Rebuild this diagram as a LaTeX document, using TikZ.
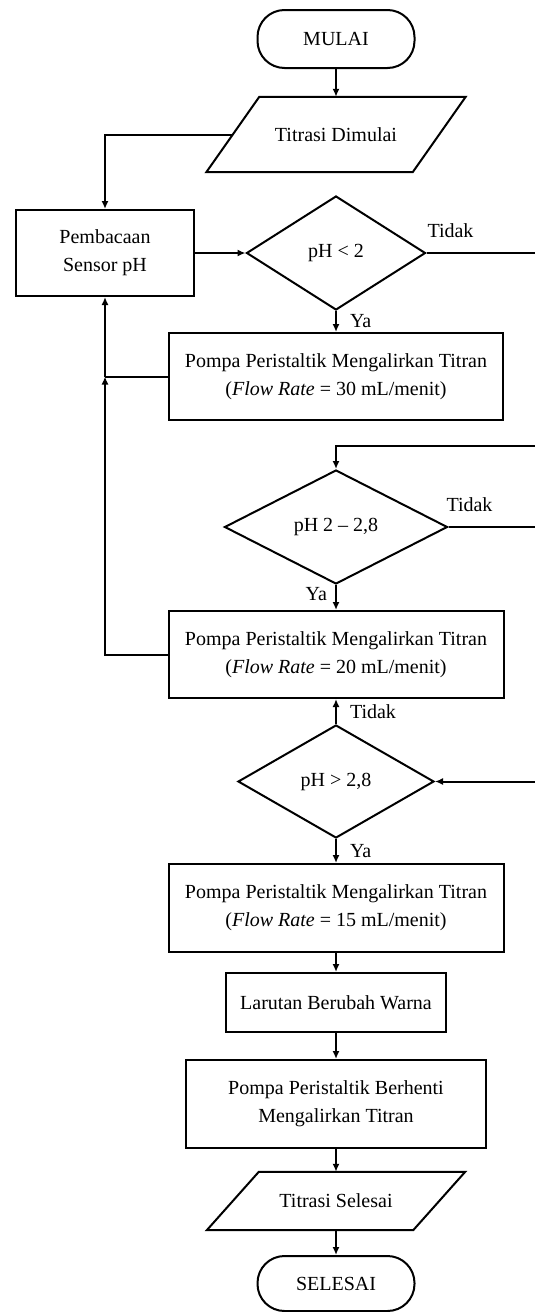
\documentclass[tikz,border=0pt]{standalone}
\usepackage{fontspec}
\setmainfont{Liberation Serif}
\usepackage{tikz}
\usetikzlibrary{arrows.meta, shapes.geometric, calc, positioning}

\begin{document}
\begin{tikzpicture}[x=1pt, y=-1pt,
    every node/.style={font=\fontsize{20}{28}\selectfont},
    terminal/.style={draw, line width=2pt, rounded corners=27pt, minimum width=157pt, minimum height=58pt},
    iobox/.style={minimum width=206pt, inner sep=0pt},
    process/.style={draw, line width=2pt, align=center, minimum height=87pt, inner sep=2pt},
    decision/.style={draw, line width=2pt, diamond, inner sep=0pt, minimum height=114pt},
    arr/.style={line width=2pt, -{Latex[length=8pt, width=7pt]}},
    line/.style={line width=2pt},
    lbl/.style={inner sep=0pt},
    tidak/.style={lbl, pos=0, anchor=south west, yshift=14pt}]
            % fixed page size
            \useasboundingbox (0,0) rectangle (535,1312);

            % flowchart blocks
            \node[terminal] (mulai) at (336,39) {MULAI};
            \node[iobox, minimum height=75pt] (dimulai) at (336,134.5) {Titrasi Dimulai};
            \node[process, minimum width=178pt, minimum height=86pt] (baca) at (105,253) {Pembacaan\\Sensor pH};
            \node[decision, minimum width=179pt] (cek1) at (336,253) {pH < 2};
            \node[process, minimum width=334pt] (pompa30) at (336,376.5) {Pompa Peristaltik Mengalirkan Titran\\(\textit{Flow Rate} = 30 mL/menit)};
            \node[decision, minimum width=223pt] (cek2) at (336,527) {pH 2 – 2,8};
            \node[process, minimum width=335pt] (pompa20) at (336,654.5) {Pompa Peristaltik Mengalirkan Titran\\(\textit{Flow Rate} = 20 mL/menit)};
            \node[decision, minimum width=196pt, minimum height=113pt] (cek3) at (336,781.5) {pH > 2,8};
            \node[process, minimum width=335pt, minimum height=88pt] (pompa15) at (336,908) {Pompa Peristaltik Mengalirkan Titran\\(\textit{Flow Rate} = 15 mL/menit)};
            \node[process, minimum width=220pt, minimum height=59pt] (warna) at (336,1002.5) {Larutan Berubah Warna};
            \node[process, minimum width=300pt, minimum height=88pt] (henti) at (336,1104) {Pompa Peristaltik Berhenti\\Mengalirkan Titran};
            \node[iobox, minimum height=58pt] (selesai) at (336,1201) {Titrasi Selesai};
            \node[terminal, minimum height=55pt] (akhir) at (336,1283.5) {SELESAI};

            % slanted input/output outlines
            \draw[line] ([xshift=26.5pt]dimulai.north west) -- ([xshift=26.5pt]dimulai.north east)
                -- ([xshift=-26.5pt]dimulai.south east) -- ([xshift=-26.5pt]dimulai.south west) -- cycle;
            \draw[line] ([xshift=26pt]selesai.north west) -- ([xshift=26pt]selesai.north east)
                -- ([xshift=-26pt]selesai.south east) -- ([xshift=-26pt]selesai.south west) -- cycle;

            % loose ends at the right border
            \coordinate (kanan1) at (535,253);
            \coordinate (kanan2) at (535,446);
            \coordinate (kanan3) at (535,527);
            \coordinate (kanan4) at (535,781.5);
            \coordinate (sambung) at (baca.south |- pompa30.west);

            % connectors
            \draw[arr] (mulai.south) -- (dimulai.north);
            \draw[arr] (dimulai.west) -| (baca.north);
            \draw[arr] (baca.east) -- (cek1.west);
            \draw[line] (cek1.east) -- node[tidak] {Tidak} (kanan1);
            \draw[arr] (cek1.south) -- node[lbl, right, xshift=13pt] {Ya} (pompa30.north);
            \draw[line] (pompa30.west) -- (sambung);
            \draw[arr] (pompa20.west) -| (sambung);
            \draw[arr] (sambung) -- (baca.south);
            \draw[arr] (kanan2) -| (cek2.north);
            \draw[line] (cek2.east) -- node[tidak, xshift=-3pt] {Tidak} (kanan3);
            \draw[arr] (cek2.south) -- node[lbl, left, xshift=-8pt, yshift=3pt] {Ya} (pompa20.north);
            \draw[arr] (cek3.north) -- node[lbl, right, xshift=13pt] {Tidak} (pompa20.south);
            \draw[arr] (kanan4) -- (cek3.east);
            \draw[arr] (cek3.south) -- node[lbl, right, xshift=13pt] {Ya} (pompa15.north);
            \draw[arr] (pompa15.south) -- (warna.north);
            \draw[arr] (warna.south) -- (henti.north);
            \draw[arr] (henti.south) -- (selesai.north);
            \draw[arr] (selesai.south) -- (akhir.north);
        \end{tikzpicture}
\end{document}
